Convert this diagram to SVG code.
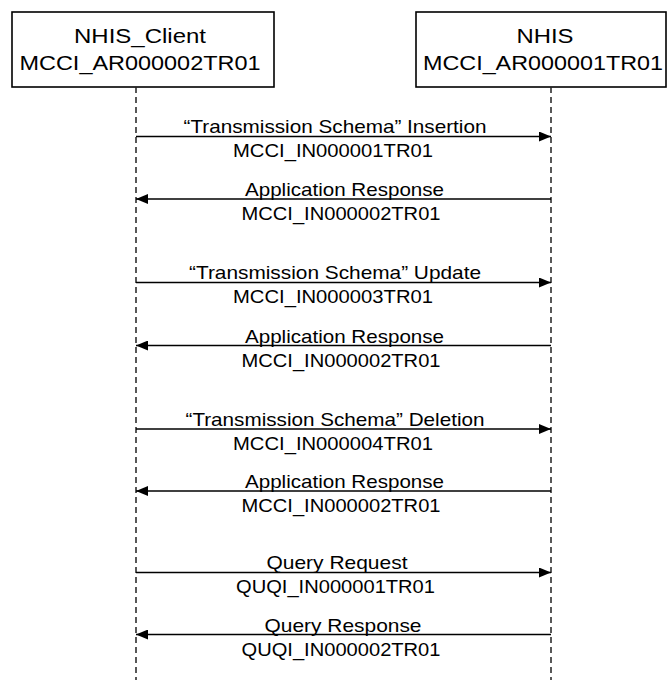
<svg xmlns="http://www.w3.org/2000/svg" width="667" height="686" viewBox="0 0 667 686">
<style>
.box{fill:#fff;stroke:#000;stroke-width:1.6}
.life{stroke:#222;stroke-width:1.5;stroke-dasharray:6 4;fill:none}
.msg{stroke:#000;stroke-width:1.3;fill:none}
.hd{font-family:"Liberation Sans",Arial,sans-serif;font-size:20px;fill:#000;text-anchor:middle}
.lb{font-family:"Liberation Sans",Arial,sans-serif;font-size:18.5px;fill:#000;text-anchor:middle}
</style>
<defs>
<marker id="ah" markerWidth="12" markerHeight="10" refX="12" refY="5" orient="auto" markerUnits="userSpaceOnUse">
<path d="M0,0 L12,5 L0,10 Z" fill="#000"/>
</marker>
</defs>
<rect width="667" height="686" fill="#fff"/>
<g id="node-client">
<rect class="box" x="12" y="12" width="262" height="75"/>
<text class="hd" x="140" y="43" textLength="132" lengthAdjust="spacingAndGlyphs">NHIS_Client</text>
<text class="hd" x="140" y="70" textLength="241" lengthAdjust="spacingAndGlyphs">MCCI_AR000002TR01</text>
<line class="life" x1="136" y1="87" x2="136" y2="680"/>
</g>
<g id="node-nhis">
<rect class="box" x="416" y="12" width="250" height="75"/>
<text class="hd" x="545" y="43" textLength="57" lengthAdjust="spacingAndGlyphs">NHIS</text>
<text class="hd" x="543" y="70" textLength="240" lengthAdjust="spacingAndGlyphs">MCCI_AR000001TR01</text>
<line class="life" x1="551" y1="87" x2="551" y2="680"/>
</g>
<g id="connectors">
<line class="msg" x1="136" y1="136.5" x2="551" y2="136.5" marker-end="url(#ah)"/>
<text class="lb" x="335" y="133" textLength="303" lengthAdjust="spacingAndGlyphs">“Transmission Schema” Insertion</text>
<text class="lb" x="333" y="157" textLength="200" lengthAdjust="spacingAndGlyphs">MCCI_IN000001TR01</text>

<line class="msg" x1="551" y1="199" x2="136" y2="199" marker-end="url(#ah)"/>
<text class="lb" x="344.5" y="196" textLength="199" lengthAdjust="spacingAndGlyphs">Application Response</text>
<text class="lb" x="341" y="220" textLength="199" lengthAdjust="spacingAndGlyphs">MCCI_IN000002TR01</text>

<line class="msg" x1="136" y1="282.5" x2="551" y2="282.5" marker-end="url(#ah)"/>
<text class="lb" x="335" y="279" textLength="292" lengthAdjust="spacingAndGlyphs">“Transmission Schema” Update</text>
<text class="lb" x="333" y="303" textLength="200" lengthAdjust="spacingAndGlyphs">MCCI_IN000003TR01</text>

<line class="msg" x1="551" y1="345.5" x2="136" y2="345.5" marker-end="url(#ah)"/>
<text class="lb" x="344.5" y="342.5" textLength="199" lengthAdjust="spacingAndGlyphs">Application Response</text>
<text class="lb" x="341" y="366.5" textLength="199" lengthAdjust="spacingAndGlyphs">MCCI_IN000002TR01</text>

<line class="msg" x1="136" y1="429" x2="551" y2="429" marker-end="url(#ah)"/>
<text class="lb" x="335" y="425.5" textLength="299" lengthAdjust="spacingAndGlyphs">“Transmission Schema” Deletion</text>
<text class="lb" x="333" y="449.5" textLength="200" lengthAdjust="spacingAndGlyphs">MCCI_IN000004TR01</text>

<line class="msg" x1="551" y1="491" x2="136" y2="491" marker-end="url(#ah)"/>
<text class="lb" x="344.5" y="488" textLength="199" lengthAdjust="spacingAndGlyphs">Application Response</text>
<text class="lb" x="341" y="512" textLength="199" lengthAdjust="spacingAndGlyphs">MCCI_IN000002TR01</text>

<line class="msg" x1="136" y1="572.5" x2="551" y2="572.5" marker-end="url(#ah)"/>
<text class="lb" x="337" y="569" textLength="141" lengthAdjust="spacingAndGlyphs">Query Request</text>
<text class="lb" x="335.5" y="593" textLength="199" lengthAdjust="spacingAndGlyphs">QUQI_IN000001TR01</text>

<line class="msg" x1="551" y1="634.5" x2="136" y2="634.5" marker-end="url(#ah)"/>
<text class="lb" x="343" y="631.5" textLength="157" lengthAdjust="spacingAndGlyphs">Query Response</text>
<text class="lb" x="341" y="655.5" textLength="199" lengthAdjust="spacingAndGlyphs">QUQI_IN000002TR01</text>
</g>
</svg>
